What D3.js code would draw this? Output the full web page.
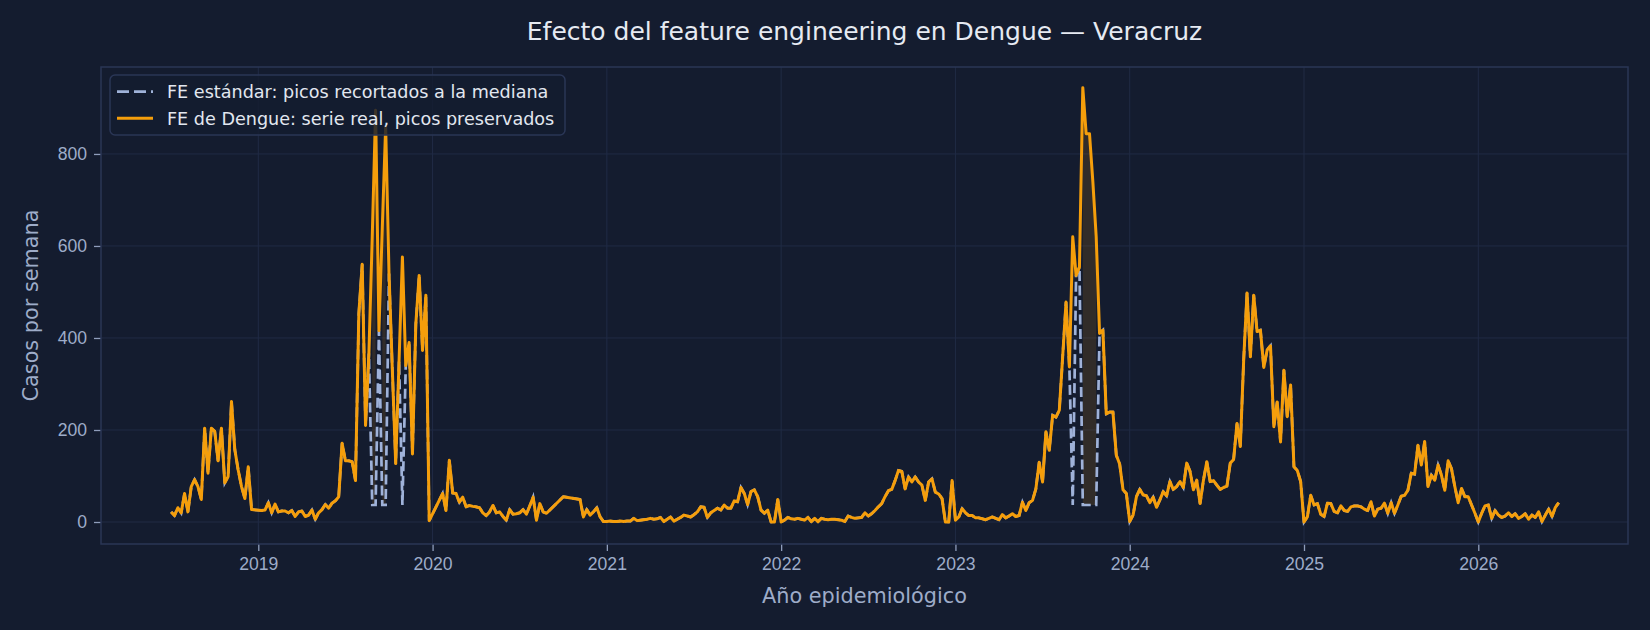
<!doctype html>
<html>
<head>
<meta charset="utf-8">
<style>
  body { margin: 0; background: #141c2f; }
  svg { display: block; font-family: "DejaVu Sans", sans-serif; }
  .axis .domain { display: none; }
  .axis .tick line { stroke: #8f9dbb; stroke-width: 1.3; }
  .axis .tick text { fill: #9eacc9; font-size: 17.6px; }
  .grid line { stroke: #202b45; stroke-width: 1; }
</style>
<script src="https://cdn.jsdelivr.net/npm/d3@7"></script>
</head>
<body>
<script>
// casos semanales por año epidemiológico (null = semana sin dato)
// 2018 empieza en la semana 27, 2026 termina en la semana 25
var semanaInicial2018 = 27;
var casos2018 = [22, 14, 31, 20, 62, 22, 77, 92, 77, 49, 204, 106, 204, 197, 133, 204, 85, 99, 262, 157, 113, 77, 51, 120, 27, null];
var casos2019 = [null, 25, 26, 42, 20, 39, 22, 24, 24, 20, 25, 12, 22, 24, 12, 15, 26, 6, 20, 27, 38, 30, 41, 46, 55, 171, 133, 133, 131, 90, 453, 560, 210, 366, 620, 895, 416, 640, 860, 540, 330, 127, 350, 576, 340, 390, 148, 430, 536, 373, 493, 3];
var casos2020 = [null, null, null, 62, 25, 134, 63, 62, 43, 54, 33, 36, 34, 33, 31, 20, 14, 22, 36, 20, 22, 12, 4, 27, 17, 18, 20, 27, 17, 35, 54, 4, 40, 22, 19, null, null, null, null, 55, null, null, null, null, 49, 11, 27, 15, 22, 31, 11, 1];
var casos2021 = [1, 2, 1, 1, 2, 1, 2, 2, 8, 3, 4, 5, 6, 8, 6, 7, 10, 1, 6, 11, 2, 6, 10, 15, 13, 11, 16, 22, 33, 32, 10, 20, 25, 30, 26, 37, 30, 30, 46, 44, 75, 62, 38, 66, 70, 55, 26, 19, 26, 0, 0, 49];
var casos2022 = [0, 4, 10, 7, 6, 8, 6, 4, 10, 1, 8, 1, 8, 6, 5, 6, 6, 5, 4, 1, 13, 10, 8, 9, 10, 20, 13, 18, 25, 33, 40, 55, 68, 71, 90, 112, 110, 72, 98, 87, 98, 87, 80, 47, 87, 94, 65, 61, 51, 0, 0, 90];
var casos2023 = [4, 11, 29, 20, 14, 14, 9, 9, 7, 5, 8, 11, 8, 5, 16, 9, 13, 18, 12, 14, 43, 25, 42, 47, 72, 130, 87, 196, 156, 232, 228, 243, 360, 478, 337, 620, 536, 554, 944, 844, 844, 740, 620, 410, 417, 235, 239, 239, 145, 126, 70, 62];
var casos2024 = [1, 15, 55, 71, 59, 57, 42, 54, 32, 48, 66, 57, 88, 71, 77, 88, 75, 128, 110, 70, 91, 40, 91, 131, 88, 90, 80, 71, 75, 78, 128, 136, 214, 164, 352, 498, 359, 493, 414, 417, 336, 374, 383, 207, 261, 174, 330, 229, 298, 120, 112, 88];
var casos2025 = [0, 11, 58, 37, 40, 17, 12, 41, 40, 23, 20, 35, 25, 23, 33, 35, 35, 33, 28, 25, 44, 13, 28, 30, 41, 19, 42, 19, 37, 56, 58, 69, 106, 104, 167, 124, 175, 77, 102, 91, 124, 102, 69, 133, 116, 77, 42, 73, 55, 55, 37, 19];
var casos2026 = [0, 19, 35, 37, 8, 25, 15, 10, 13, 20, 12, 18, 8, 12, 18, 6, 15, 10, 22, 1, 15, 28, 12, 32, 42];

// semanas que el FE estándar recorta a la mediana
var semanasRecortadas = ['2019-35', '2019-36', '2019-38', '2019-39', '2019-44',
  '2023-36', '2023-39', '2023-40', '2023-41', '2023-42', '2023-43'];
var medianaRecorte = 37;

var anios = [2019, 2020, 2021, 2022, 2023, 2024, 2025, 2026];
var ticksY = [0, 200, 400, 600, 800];

// 1. tabla de filas
var series = [
  [2018, semanaInicial2018, casos2018], [2019, 1, casos2019], [2020, 1, casos2020],
  [2021, 1, casos2021], [2022, 1, casos2022], [2023, 1, casos2023],
  [2024, 1, casos2024], [2025, 1, casos2025], [2026, 1, casos2026]
];
var filas = [];
series.forEach(s => s[2].forEach((v, i) => {
  if (v === null) return;
  var sem = s[1] + i;
  var rec = semanasRecortadas.includes(s[0] + '-' + sem);
  filas.push({ t: s[0] + (sem - 1) / 52, real: v, estandar: rec ? medianaRecorte : v, rec: rec });
}));

// 2. lienzo y escalas
var W = 1650, H = 630;
var margin = { top: 67, right: 22, bottom: 86, left: 101 };
var width = W - margin.left - margin.right;
var height = H - margin.top - margin.bottom;

var x = d3.scaleLinear().domain([2018.0975, 2026.859]).range([0, width]);
var y = d3.scaleLinear().domain([-47.8, 989]).range([height, 0]);

var svg = d3.select('body').append('svg')
  .attr('width', W).attr('height', H)
  .style('background', '#141c2f');

var g = svg.append('g').attr('transform', `translate(${margin.left},${margin.top})`);

g.append('clipPath').attr('id', 'area-clip')
  .append('rect').attr('width', width).attr('height', height);

// rejilla
g.append('g').attr('class', 'grid')
  .selectAll('line.v').data(anios).enter().append('line')
  .attr('x1', d => x(d)).attr('x2', d => x(d)).attr('y1', 0).attr('y2', height);
g.append('g').attr('class', 'grid')
  .selectAll('line.h').data(ticksY).enter().append('line')
  .attr('y1', d => y(d)).attr('y2', d => y(d)).attr('x1', 0).attr('x2', width);

// 3. relleno entre serie real y recortada (solo tramos consecutivos recortados)
var tramos = [], actual = [];
filas.forEach(f => {
  if (f.rec) actual.push(f);
  else { if (actual.length > 1) tramos.push(actual); actual = []; }
});
if (actual.length > 1) tramos.push(actual);

var area = d3.area().x(d => x(d.t)).y0(d => y(d.estandar)).y1(d => y(d.real));
var plot = g.append('g').attr('clip-path', 'url(#area-clip)');
plot.selectAll('path.relleno').data(tramos).enter().append('path')
  .attr('d', area)
  .attr('fill', '#f59e0b').attr('fill-opacity', 0.13);

// 4. líneas
var lineaEst = d3.line().x(d => x(d.t)).y(d => y(d.estandar));
var lineaReal = d3.line().x(d => x(d.t)).y(d => y(d.real));

plot.append('path').datum(filas)
  .attr('d', lineaEst)
  .attr('fill', 'none').attr('stroke', '#9fb2d9')
  .attr('stroke-width', 2.7).attr('stroke-dasharray', '10,4.5');

plot.append('path').datum(filas)
  .attr('d', lineaReal)
  .attr('fill', 'none').attr('stroke', '#f59e0b')
  .attr('stroke-width', 3).attr('stroke-linejoin', 'round');

// 5. ejes
g.append('g').attr('class', 'axis')
  .attr('transform', `translate(0,${height})`)
  .call(d3.axisBottom(x).tickValues(anios).tickFormat(d3.format('d')).tickSize(7).tickPadding(7));

g.append('g').attr('class', 'axis')
  .call(d3.axisLeft(y).tickValues(ticksY).tickSize(7).tickPadding(7));

// marco
g.append('rect')
  .attr('width', width).attr('height', height)
  .attr('fill', 'none').attr('stroke', '#2a3656').attr('stroke-width', 1.5);

// 6. textos
svg.append('text')
  .text('Efecto del feature engineering en Dengue — Veracruz')
  .attr('x', margin.left + width / 2).attr('y', 40)
  .attr('text-anchor', 'middle')
  .style('font-size', '25px').style('fill', '#e6eaf2');

svg.append('text')
  .text('Año epidemiológico')
  .attr('x', margin.left + width / 2).attr('y', 603)
  .attr('text-anchor', 'middle')
  .style('font-size', '20.8px').style('fill', '#9eacc9');

svg.append('text')
  .text('Casos por semana')
  .attr('transform', `translate(38,${margin.top + height / 2}) rotate(-90)`)
  .attr('text-anchor', 'middle')
  .style('font-size', '20.8px').style('fill', '#9eacc9');

// 7. leyenda
var leyenda = svg.append('g').attr('transform', 'translate(110,75)');
leyenda.append('rect')
  .attr('width', 455).attr('height', 60).attr('rx', 5)
  .attr('fill', '#141c2f').attr('fill-opacity', 0.82)
  .attr('stroke', '#2a3656').attr('stroke-width', 1.5);

var items = [
  { txt: 'FE estándar: picos recortados a la mediana', color: '#9fb2d9', dash: '12,5', w: 2.7 },
  { txt: 'FE de Dengue: serie real, picos preservados', color: '#f59e0b', dash: null, w: 3 }
];
items.forEach((it, i) => {
  var yy = 16.7 + i * 26.6;
  leyenda.append('line')
    .attr('x1', 7).attr('x2', 43).attr('y1', yy).attr('y2', yy)
    .attr('stroke', it.color).attr('stroke-width', it.w)
    .attr('stroke-dasharray', it.dash);
  leyenda.append('text')
    .text(it.txt)
    .attr('x', 57).attr('y', yy + 6.2)
    .style('font-size', '17.6px').style('fill', '#e2e7f0');
});
</script>
</body>
</html>
